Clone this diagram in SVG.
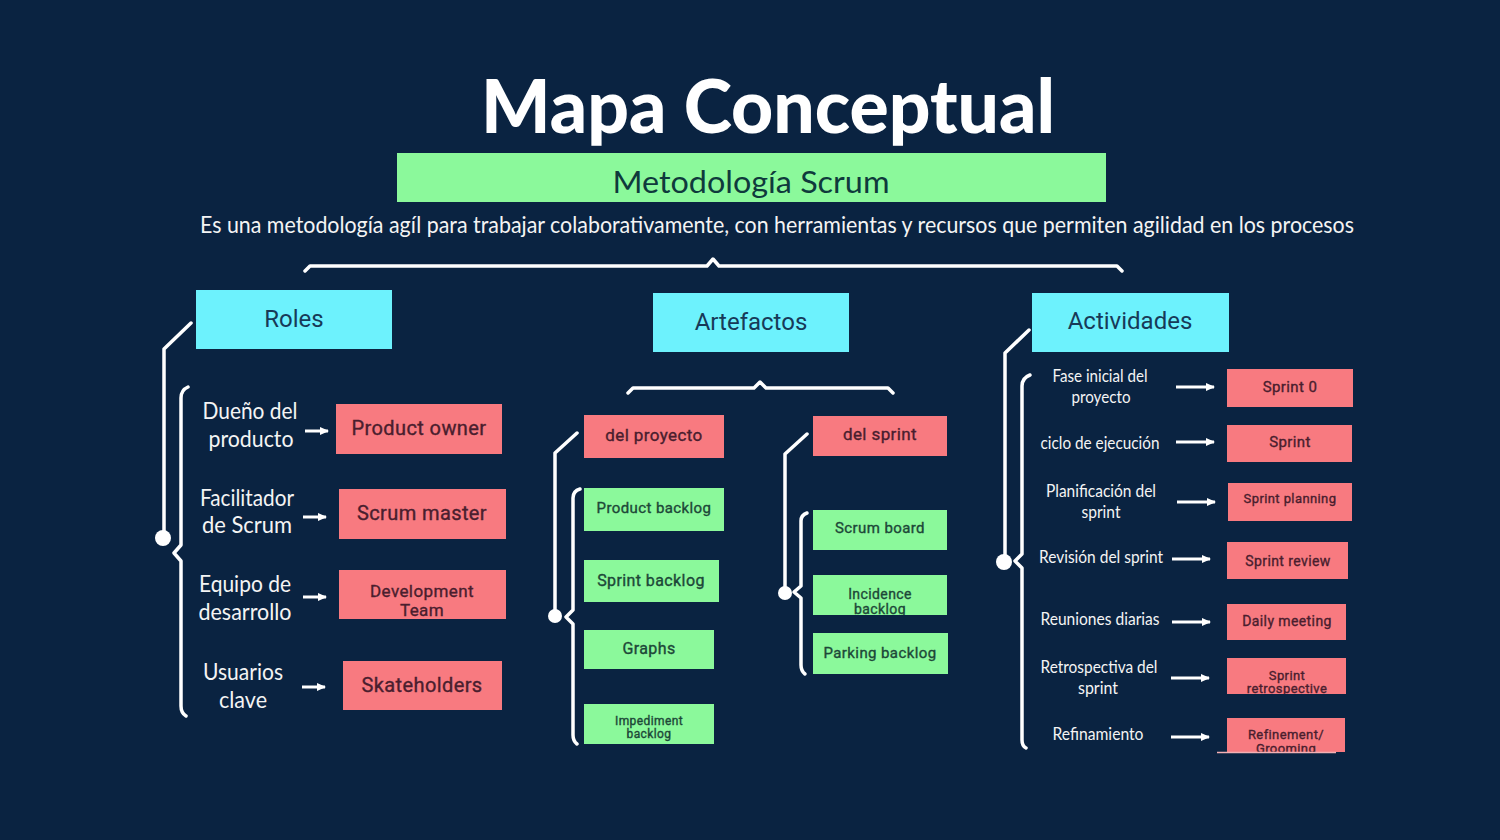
<svg xmlns="http://www.w3.org/2000/svg" width="1500" height="840" viewBox="0 0 1500 840">
<defs>
<style>
.bg{fill:#0a2341}
.pink{fill:#f87a80}
.green{fill:#8bf99b}
.cyan{fill:#6df2fd}
.ln{fill:none;stroke:#ffffff;stroke-width:3.5;stroke-linecap:round;stroke-linejoin:round}
.arr{stroke:#ffffff;stroke-width:3;fill:none}
.lbl{font-family:Lato,"Liberation Sans",sans-serif;fill:#f4f4f4;text-anchor:middle}
.pt{font-family:Roboto,"Noto Sans","Liberation Sans",sans-serif;letter-spacing:0.4px;fill:#4a1e2e;stroke:#4a1e2e;stroke-width:0.35px;text-anchor:middle}
.gt{font-family:Roboto,"Noto Sans","Liberation Sans",sans-serif;letter-spacing:0.4px;fill:#1d4838;stroke:#1d4838;stroke-width:0.35px;text-anchor:middle}
.ct{font-family:Roboto,"Noto Sans","Liberation Sans",sans-serif;fill:#173a58;text-anchor:middle;font-size:24px}
</style>
<marker id="ah" markerUnits="userSpaceOnUse" markerWidth="9" markerHeight="9" refX="8" refY="4.5" orient="auto">
<path d="M0,0.5 L9,4.5 L0,8.5 z" fill="#ffffff"/>
</marker>
<clipPath id="cDev"><rect x="339" y="570" width="167" height="49"/></clipPath>
<clipPath id="cInc"><rect x="813" y="575" width="134" height="40"/></clipPath>
<clipPath id="cRetro"><rect x="1227" y="658" width="119" height="36"/></clipPath>
<clipPath id="cRef"><rect x="1227" y="718" width="118" height="34"/></clipPath>
</defs>
<rect class="bg" x="0" y="0" width="1500" height="840"/>

<g id="title">
<text x="768" y="133" font-family="Lato,'Liberation Sans',sans-serif" font-weight="900" font-size="74" fill="#ffffff" text-anchor="middle" textLength="574" lengthAdjust="spacingAndGlyphs">Mapa Conceptual</text>
</g>
<g id="scrum">
<rect class="green" x="397" y="153" width="709" height="49"/>
<text x="751" y="193" font-family="Lato,'Liberation Sans',sans-serif" font-size="30" fill="#0f3a3c" text-anchor="middle" textLength="277" lengthAdjust="spacingAndGlyphs">Metodología Scrum</text>
</g>
<g id="desc">
<text x="777" y="233" class="lbl" font-size="23" textLength="1154" lengthAdjust="spacingAndGlyphs">Es una metodología agíl para trabajar colaborativamente, con herramientas y recursos que permiten agilidad en los procesos</text>
</g>

<g id="connectors">
<path class="ln" d="M305,271 L310,266 H707 L713,259 L719,266 H1117 L1122,271"/>
<path class="ln" d="M191,323 L164,349 V532"/>
<circle cx="163" cy="538" r="8" fill="#ffffff"/>
<path class="ln" d="M188,387 Q181,390 181,398 V545 L174,553 L181,561 V706 Q181,713 186,716"/>
<path class="ln" d="M628,393 L633,388 H754 L760,382 L766,388 H888 L893,393"/>
<path class="ln" d="M577,433 L555,453 V610"/>
<circle cx="555" cy="616" r="7" fill="#ffffff"/>
<path class="ln" d="M580,489 Q573,491 573,498 V610 L566,617 L573,624 V735 Q573,741 577,744"/>
<path class="ln" d="M807,434 L785,454 V587"/>
<circle cx="785" cy="593" r="7" fill="#ffffff"/>
<path class="ln" d="M807,513 Q801,515 801,521 V586 L794,592 L801,598 V665 Q801,671 805,674"/>
<path class="ln" d="M1029,330 L1005,353 V555"/>
<circle cx="1004" cy="562" r="8" fill="#ffffff"/>
<path class="ln" d="M1030,375 Q1022,378 1022,386 V554 L1015,561 L1022,568 V740 Q1022,746 1026,748"/>
<line class="arr" x1="305" y1="431" x2="328" y2="431" marker-end="url(#ah)"/>
<line class="arr" x1="303" y1="517" x2="326" y2="517" marker-end="url(#ah)"/>
<line class="arr" x1="303" y1="597" x2="326" y2="597" marker-end="url(#ah)"/>
<line class="arr" x1="302" y1="687" x2="325" y2="687" marker-end="url(#ah)"/>
<line class="arr" x1="1176" y1="387" x2="1214" y2="387" marker-end="url(#ah)"/>
<line class="arr" x1="1176" y1="442" x2="1214" y2="442" marker-end="url(#ah)"/>
<line class="arr" x1="1177" y1="502" x2="1215" y2="502" marker-end="url(#ah)"/>
<line class="arr" x1="1172" y1="559" x2="1210" y2="559" marker-end="url(#ah)"/>
<line class="arr" x1="1172" y1="622" x2="1210" y2="622" marker-end="url(#ah)"/>
<line class="arr" x1="1171" y1="678" x2="1209" y2="678" marker-end="url(#ah)"/>
<line class="arr" x1="1171" y1="737" x2="1209" y2="737" marker-end="url(#ah)"/>
</g>

<g id="roles"><rect class="cyan" x="196" y="290" width="196" height="59"/><text class="ct" x="294" y="327">Roles</text></g>
<g id="artefactos"><rect class="cyan" x="653" y="293" width="196" height="59"/><text class="ct" x="751" y="330">Artefactos</text></g>
<g id="actividades"><rect class="cyan" x="1032" y="293" width="197" height="59"/><text class="ct" x="1130" y="329">Actividades</text></g>

<g id="lbl-dueno"><text class="lbl" x="250" y="419" font-size="23" textLength="95" lengthAdjust="spacingAndGlyphs">Dueño del</text><text class="lbl" x="251" y="447" font-size="23" textLength="85" lengthAdjust="spacingAndGlyphs">producto</text></g>
<g id="product-owner"><rect class="pink" x="336" y="404" width="166" height="50"/><text class="pt" x="419" y="435" font-size="20">Product owner</text></g>
<g id="lbl-facilitador"><text class="lbl" x="247" y="506" font-size="23" textLength="94" lengthAdjust="spacingAndGlyphs">Facilitador</text><text class="lbl" x="247" y="533" font-size="23" textLength="90" lengthAdjust="spacingAndGlyphs">de Scrum</text></g>
<g id="scrum-master"><rect class="pink" x="339" y="489" width="167" height="50"/><text class="pt" x="422" y="520" font-size="20">Scrum master</text></g>
<g id="lbl-equipo"><text class="lbl" x="245" y="592" font-size="23" textLength="92" lengthAdjust="spacingAndGlyphs">Equipo de</text><text class="lbl" x="245" y="620" font-size="23" textLength="93" lengthAdjust="spacingAndGlyphs">desarrollo</text></g>
<g id="development-team"><rect class="pink" x="339" y="570" width="167" height="49"/><g clip-path="url(#cDev)"><text class="pt" x="422" y="597" font-size="17">Development</text><text class="pt" x="422" y="616" font-size="17">Team</text></g></g>
<g id="lbl-usuarios"><text class="lbl" x="243" y="680" font-size="23" textLength="80" lengthAdjust="spacingAndGlyphs">Usuarios</text><text class="lbl" x="243" y="708" font-size="23" textLength="48" lengthAdjust="spacingAndGlyphs">clave</text></g>
<g id="skateholders"><rect class="pink" x="343" y="661" width="159" height="49"/><text class="pt" x="422" y="692" font-size="20">Skateholders</text></g>

<g id="del-proyecto"><rect class="pink" x="584" y="415" width="140" height="43"/><text class="pt" x="654" y="441" font-size="17">del proyecto</text></g>
<g id="product-backlog"><rect class="green" x="584" y="488" width="140" height="43"/><text class="gt" x="654" y="513" font-size="15">Product backlog</text></g>
<g id="sprint-backlog"><rect class="green" x="584" y="560" width="135" height="42"/><text class="gt" x="651" y="586" font-size="16">Sprint backlog</text></g>
<g id="graphs"><rect class="green" x="584" y="630" width="130" height="39"/><text class="gt" x="649" y="654" font-size="16">Graphs</text></g>
<g id="impediment-backlog"><rect class="green" x="584" y="704" width="130" height="40"/><text class="gt" x="649" y="725" font-size="12">Impediment</text><text class="gt" x="649" y="738" font-size="12">backlog</text></g>
<g id="del-sprint"><rect class="pink" x="813" y="416" width="134" height="40"/><text class="pt" x="880" y="440" font-size="17">del sprint</text></g>
<g id="scrum-board"><rect class="green" x="813" y="510" width="134" height="40"/><text class="gt" x="880" y="533" font-size="15">Scrum board</text></g>
<g id="incidence-backlog"><rect class="green" x="813" y="575" width="134" height="40"/><g clip-path="url(#cInc)"><text class="gt" x="880" y="599" font-size="14">Incidence</text><text class="gt" x="880" y="614" font-size="14">backlog</text></g></g>
<g id="parking-backlog"><rect class="green" x="813" y="633" width="135" height="41"/><text class="gt" x="880" y="658" font-size="15">Parking backlog</text></g>

<g id="lbl-fase"><text class="lbl" x="1100" y="382" font-size="17" textLength="95" lengthAdjust="spacingAndGlyphs">Fase inicial del</text><text class="lbl" x="1101" y="403" font-size="17" textLength="59" lengthAdjust="spacingAndGlyphs">proyecto</text></g>
<g id="sprint-0"><rect class="pink" x="1227" y="369" width="126" height="38"/><text class="pt" x="1290" y="392" font-size="15">Sprint 0</text></g>
<g id="lbl-ciclo"><text class="lbl" x="1100" y="449" font-size="17" textLength="119" lengthAdjust="spacingAndGlyphs">ciclo de ejecución</text></g>
<g id="sprint"><rect class="pink" x="1227" y="425" width="125" height="37"/><text class="pt" x="1290" y="447" font-size="15">Sprint</text></g>
<g id="lbl-planificacion"><text class="lbl" x="1101" y="497" font-size="17" textLength="110" lengthAdjust="spacingAndGlyphs">Planificación del</text><text class="lbl" x="1101" y="518" font-size="17" textLength="39" lengthAdjust="spacingAndGlyphs">sprint</text></g>
<g id="sprint-planning"><rect class="pink" x="1228" y="483" width="124" height="38"/><text class="pt" x="1290" y="503" font-size="13">Sprint planning</text></g>
<g id="lbl-revision"><text class="lbl" x="1101" y="563" font-size="17" textLength="124" lengthAdjust="spacingAndGlyphs">Revisión del sprint</text></g>
<g id="sprint-review"><rect class="pink" x="1227" y="542" width="121" height="37"/><text class="pt" x="1288" y="566" font-size="14">Sprint review</text></g>
<g id="lbl-reuniones"><text class="lbl" x="1100" y="625" font-size="17" textLength="119" lengthAdjust="spacingAndGlyphs">Reuniones diarias</text></g>
<g id="daily-meeting"><rect class="pink" x="1227" y="604" width="119" height="36"/><text class="pt" x="1287" y="626" font-size="14">Daily meeting</text></g>
<g id="lbl-retro"><text class="lbl" x="1099" y="673" font-size="17" textLength="117" lengthAdjust="spacingAndGlyphs">Retrospectiva del</text><text class="lbl" x="1098" y="694" font-size="17" textLength="40" lengthAdjust="spacingAndGlyphs">sprint</text></g>
<g id="sprint-retrospective"><rect class="pink" x="1227" y="658" width="119" height="36"/><g clip-path="url(#cRetro)"><text class="pt" x="1287" y="680" font-size="13">Sprint</text><text class="pt" x="1287" y="693" font-size="13">retrospective</text></g></g>
<g id="lbl-refinamiento"><text class="lbl" x="1098" y="740" font-size="17" textLength="91" lengthAdjust="spacingAndGlyphs">Refinamiento</text></g>
<g id="refinement"><rect class="pink" x="1227" y="718" width="118" height="34"/><g clip-path="url(#cRef)"><text class="pt" x="1286" y="739" font-size="13">Refinement/</text><text class="pt" x="1286" y="753" font-size="13">Grooming</text></g><line x1="1217" y1="752.5" x2="1336" y2="752.5" stroke="#f3b0b4" stroke-width="1.5"/></g>
</svg>
